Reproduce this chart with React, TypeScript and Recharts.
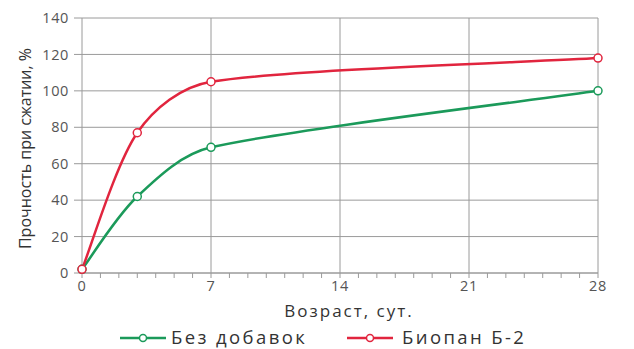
import React from "react";
import {
  LineChart,
  Line,
  XAxis,
  YAxis,
  CartesianGrid,
  ReferenceLine,
  Legend,
  Label,
} from "recharts";

const days = [0, 3, 7, 28];
const plain = [2, 42, 69, 100];
const biopan = [2, 77, 105, 118];

const xTicks = Array.from({ length: 29 }, (_, i) => i);
const xMajor = [7, 14, 21, 28];
const yTicks = [0, 20, 40, 60, 80, 100, 120, 140];

const GREEN = "#1b9a5a";
const RED = "#e1253e";
const GRID = "#9a9a9a";
const FONT = "'Open Sans', 'Noto Sans', sans-serif";

const data = days.map((d, i) => ({ day: d, plain: plain[i], biopan: biopan[i] }));

const series = [
  { key: "plain", name: "Без добавок", color: GREEN, iconX: 120, textX: 171 },
  { key: "biopan", name: "Биопан Б-2", color: RED, iconX: 347, textX: 402 },
];

// spreadsheet-style smoothing: cardinal bezier, handles capped to 1/3 of the segment
function smoothCurve(ctx: any) {
  let pts: [number, number][] = [];
  let area = false;
  return {
    areaStart() { area = true; },
    areaEnd() { area = false; },
    lineStart() { pts = []; },
    point(x: number, y: number) { pts.push([+x, +y]); },
    lineEnd() {
      const n = pts.length;
      if (!n) return;
      if (area) ctx.lineTo(pts[0][0], pts[0][1]);
      else ctx.moveTo(pts[0][0], pts[0][1]);
      for (let i = 0; i < n - 1; i++) {
        const p0 = pts[Math.max(i - 1, 0)];
        const p1 = pts[i];
        const p2 = pts[i + 1];
        const p3 = pts[Math.min(i + 2, n - 1)];
        const seg = Math.hypot(p2[0] - p1[0], p2[1] - p1[1]);
        const cap = seg / 3;
        let ax = (p2[0] - p0[0]) / 6, ay = (p2[1] - p0[1]) / 6;
        let bx = (p3[0] - p1[0]) / 6, by = (p3[1] - p1[1]) / 6;
        const la = Math.hypot(ax, ay), lb = Math.hypot(bx, by);
        if (la > cap) { ax *= cap / la; ay *= cap / la; }
        if (lb > cap) { bx *= cap / lb; by *= cap / lb; }
        ctx.bezierCurveTo(p1[0] + ax, p1[1] + ay, p2[0] - bx, p2[1] - by, p2[0], p2[1]);
      }
    },
  };
}

function LegendIcon({ color }: { color: string }) {
  return (
    <svg width={46} height={12} style={{ display: "block" }}>
      <line x1={0} y1={6} x2={46} y2={6} stroke={color} strokeWidth={2.5} />
      <circle cx={23} cy={6} r={3.5} fill="#fff" stroke={color} strokeWidth={1.5} />
    </svg>
  );
}

function LegendContent() {
  return (
    <div style={{ position: "relative", height: 23, width: 634, fontFamily: FONT }}>
      {series.map((s) => (
        <React.Fragment key={s.key}>
          <div style={{ position: "absolute", left: s.iconX, top: 6 }}>
            <LegendIcon color={s.color} />
          </div>
          <span
            style={{
              position: "absolute",
              left: s.textX,
              top: -2,
              fontSize: 18.5,
              letterSpacing: 2.4,
              color: "#333",
              whiteSpace: "nowrap",
              lineHeight: "25px",
            }}
          >
            {s.name}
          </span>
        </React.Fragment>
      ))}
    </div>
  );
}

export default function App() {
  return (
    <div style={{ position: "absolute", left: 0, top: 0, width: 634, height: 349, background: "#fff" }}>
      <LineChart
        width={634}
        height={349}
        data={data}
        margin={{ top: 18, right: 36, left: 0, bottom: 0 }}
      >
        <CartesianGrid vertical={false} stroke={GRID} strokeWidth={1} />
        {xMajor.map((x) => (
          <ReferenceLine key={x} x={x} stroke={GRID} strokeWidth={1} />
        ))}
        <XAxis
          dataKey="day"
          type="number"
          domain={[0, 28]}
          ticks={xTicks}
          interval={0}
          tickFormatter={(v: number) => (v % 7 === 0 ? String(v) : "")}
          height={53}
          stroke={GRID}
          tickSize={5}
          tickMargin={3}
          tick={{ fill: "#555", fontSize: 14.5, fontFamily: FONT, letterSpacing: 0.8 }}
        >
          <Label
            content={({ viewBox }: any) => (
              <text
                x={viewBox.x + viewBox.width / 2 + 9}
                y={viewBox.y + 44}
                textAnchor="middle"
                fill="#333"
                fontSize={17}
                letterSpacing={2}
                fontFamily={FONT}
              >
                Возраст, сут.
              </text>
            )}
          />
        </XAxis>
        <YAxis
          type="number"
          domain={[0, 140]}
          ticks={yTicks}
          interval={0}
          width={82}
          stroke={GRID}
          tickSize={8}
          tickMargin={5}
          tick={{ fill: "#555", fontSize: 14.5, fontFamily: FONT, letterSpacing: 0.6 }}
        >
          <Label
            content={({ viewBox }: any) => {
              const x = viewBox.x + 25;
              const y = viewBox.y + viewBox.height / 2 + 3;
              return (
                <text
                  x={x}
                  y={y}
                  transform={`rotate(-90, ${x}, ${y})`}
                  textAnchor="middle"
                  dominantBaseline="central"
                  fill="#333"
                  fontSize={16}
                  fontFamily={FONT}
                >
                  Прочность при сжатии, %
                </text>
              );
            }}
          />
        </YAxis>
        <Legend verticalAlign="bottom" align="left" content={<LegendContent />} />
        {series.map((s) => (
          <Line
            key={s.key}
            type={smoothCurve as any}
            dataKey={s.key}
            name={s.name}
            stroke={s.color}
            strokeWidth={2.5}
            dot={{ r: 4, fill: "#fff", stroke: s.color, strokeWidth: 1.5 }}
            isAnimationActive={false}
          />
        ))}
      </LineChart>
    </div>
  );
}
